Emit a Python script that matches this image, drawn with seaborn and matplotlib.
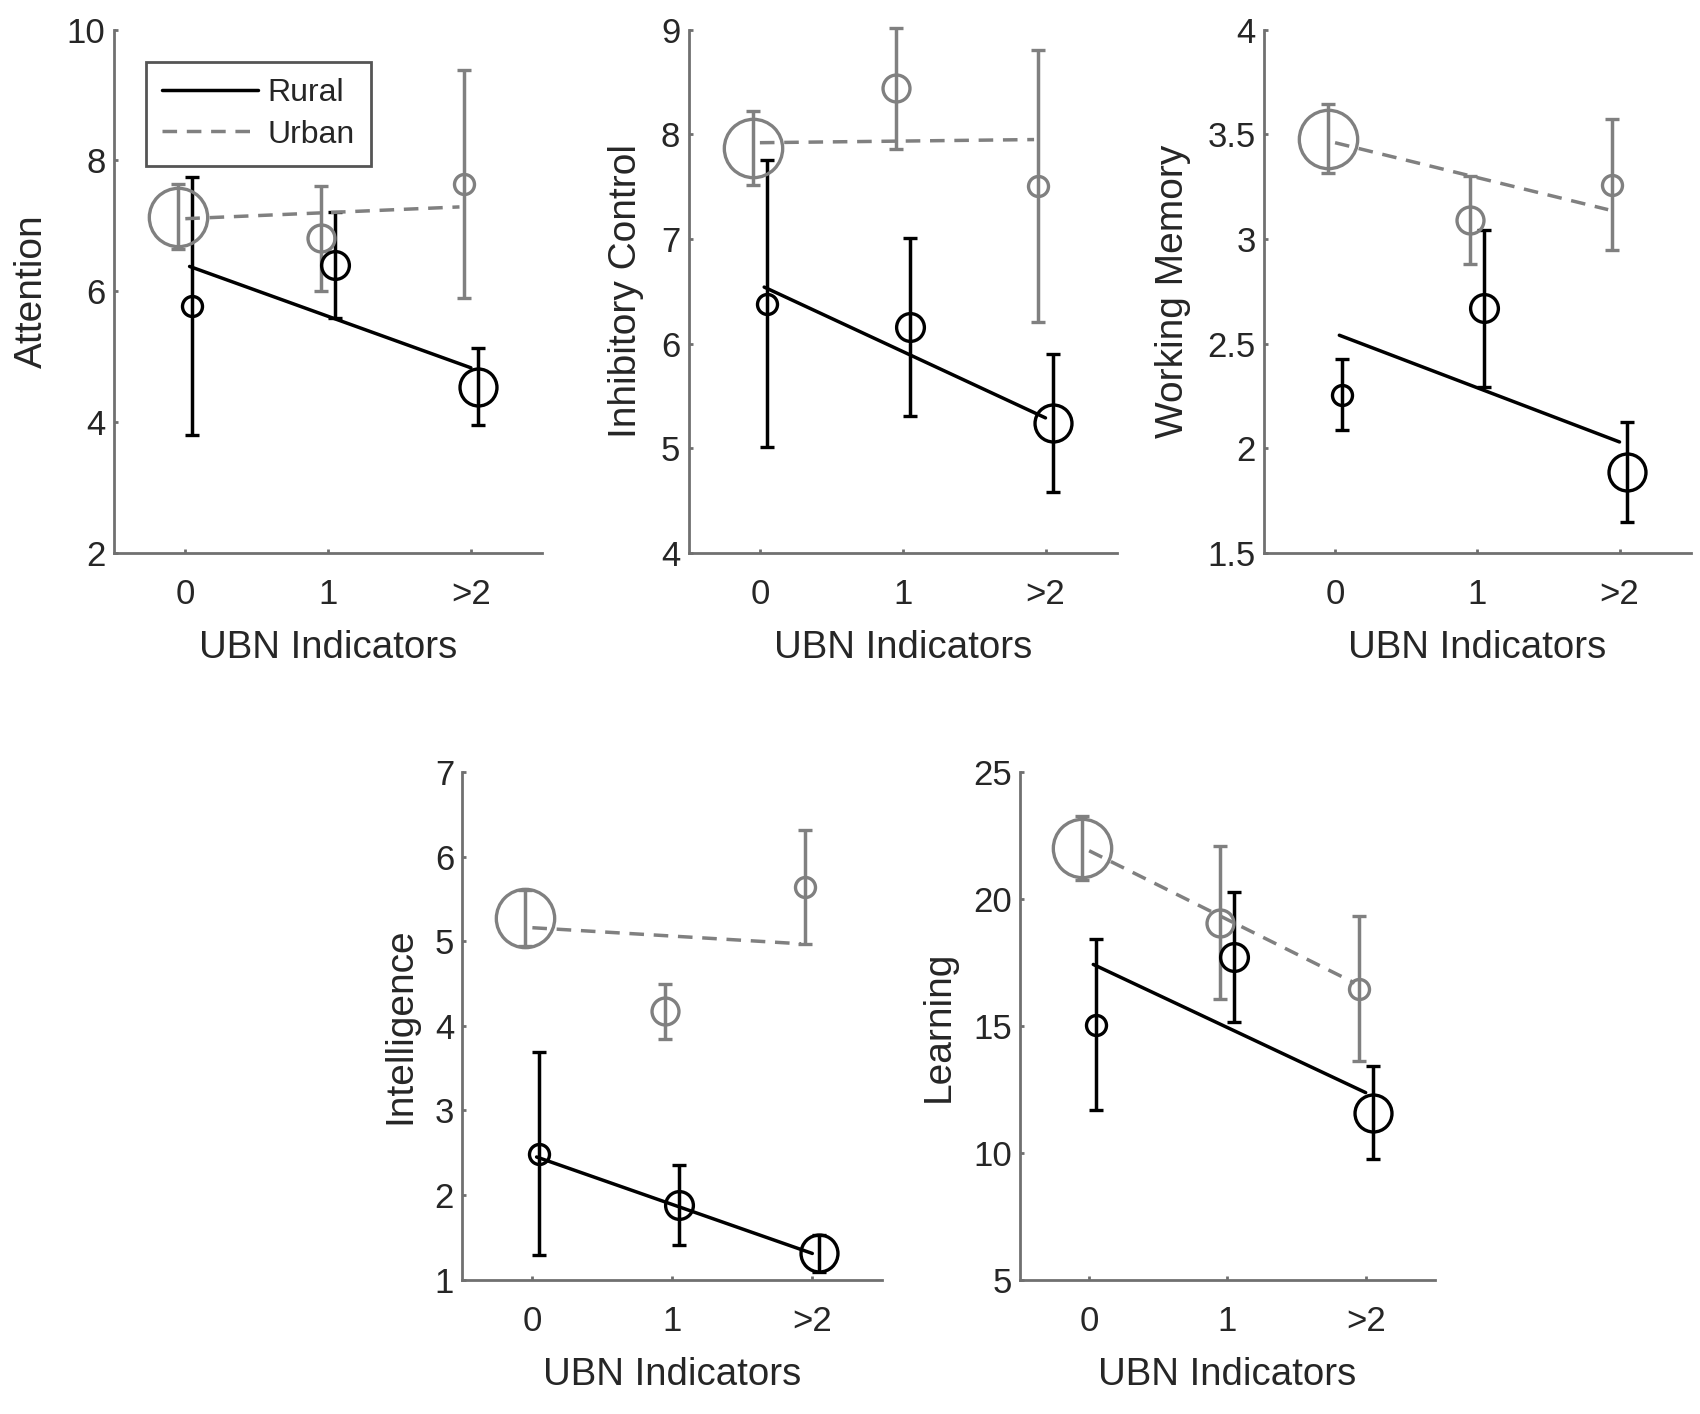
import numpy as np
import pandas as pd
import matplotlib
matplotlib.use('Agg')
import matplotlib.pyplot as plt
from matplotlib.lines import Line2D
from matplotlib.ticker import FuncFormatter
import seaborn as sns

# x categories
ubn_labels = ['0', '1', '>2']
groups = ['Rural', 'Urban']

# group means, half error bars and fit line end values
attention_rural = [5.78, 6.40, 4.54]
attention_rural_err = [1.97, 0.81, 0.59]
attention_urban = [7.14, 6.81, 7.64]
attention_urban_err = [0.50, 0.80, 1.75]
attention_fit_rural = [6.38, 4.83]
attention_fit_urban = [7.11, 7.29]

inhib_rural = [6.38, 6.16, 5.24]
inhib_rural_err = [1.37, 0.85, 0.66]
inhib_urban = [7.87, 8.44, 7.51]
inhib_urban_err = [0.35, 0.58, 1.30]
inhib_fit_rural = [6.54, 5.29]
inhib_fit_urban = [7.92, 7.95]

wm_rural = [2.256, 2.67, 1.886]
wm_rural_err = [0.17, 0.375, 0.24]
wm_urban = [3.48, 3.09, 3.26]
wm_urban_err = [0.165, 0.21, 0.315]
wm_fit_rural = [2.54, 2.03]
wm_fit_urban = [3.46, 3.14]

intel_rural = [2.49, 1.88, 1.31]
intel_rural_err = [1.20, 0.47, 0.22]
intel_urban = [5.27, 4.17, 5.64]
intel_urban_err = [0.33, 0.33, 0.67]
intel_fit_rural = [2.45, 1.31]
intel_fit_urban = [5.16, 4.97]

learn_rural = [15.05, 17.71, 11.58]
learn_rural_err = [3.37, 2.55, 1.84]
learn_urban = [22.0, 19.07, 16.47]
learn_urban_err = [1.26, 3.0, 2.86]
learn_fit_rural = [17.42, 12.37]
learn_fit_urban = [21.9, 16.69]

panels = [
    ('Attention', attention_rural, attention_rural_err, attention_urban, attention_urban_err,
     attention_fit_rural, attention_fit_urban, (2, 10), [2, 4, 6, 8, 10]),
    ('Inhibitory Control', inhib_rural, inhib_rural_err, inhib_urban, inhib_urban_err,
     inhib_fit_rural, inhib_fit_urban, (4, 9), [4, 5, 6, 7, 8, 9]),
    ('Working Memory', wm_rural, wm_rural_err, wm_urban, wm_urban_err,
     wm_fit_rural, wm_fit_urban, (1.5, 4), [1.5, 2, 2.5, 3, 3.5, 4]),
    ('Intelligence', intel_rural, intel_rural_err, intel_urban, intel_urban_err,
     intel_fit_rural, intel_fit_urban, (1, 7), [1, 2, 3, 4, 5, 6, 7]),
    ('Learning', learn_rural, learn_rural_err, learn_urban, learn_urban_err,
     learn_fit_rural, learn_fit_urban, (5, 25), [5, 10, 15, 20, 25]),
]

# style
colors = {'Rural': 'black', 'Urban': '#808080'}
offsets = {'Rural': 0.05, 'Urban': -0.05}
marker_ms = {'Rural': [7.2, 10, 13.3], 'Urban': [21, 9.7, 7.2]}
fit_x = {'Rural': [0.03, 2.0], 'Urban': [0.0, 1.92]}
spine_col = '#707070'
text_col = '#262626'

axes_pos = [
    [0.067, 0.609, 0.252, 0.370],
    [0.405, 0.609, 0.252, 0.370],
    [0.7435, 0.609, 0.251, 0.370],
    [0.272, 0.095, 0.247, 0.359],
    [0.600, 0.095, 0.244, 0.359],
]

sns.set_theme(style='ticks')
plt.rcParams['font.family'] = ['Liberation Sans', 'DejaVu Sans']

fig = plt.figure(figsize=(8.5, 7.07), dpi=200)

for pos, (name, r, r_err, u, u_err, f_r, f_u, ylim, yticks) in zip(axes_pos, panels):
    ax = fig.add_axes(pos)
    # error bars with open circles, urban first so rural sits on top
    for g, means, errs in [('Urban', u, u_err), ('Rural', r, r_err)]:
        for i in range(3):
            eb = ax.errorbar(i + offsets[g], means[i], yerr=errs[i], fmt='o', mfc='none',
                             mec=colors[g], ms=marker_ms[g][i], mew=1.2, ecolor=colors[g],
                             elinewidth=1.25, capsize=2.4, capthick=1.25, zorder=3)
            for art in eb.lines[1] + eb.lines[2]:
                art.set_clip_on(False)
    # fit lines
    fit_df = pd.DataFrame({
        'x': fit_x['Rural'] + fit_x['Urban'],
        'y': list(f_r) + list(f_u),
        'group': ['Rural', 'Rural', 'Urban', 'Urban'],
    })
    sns.lineplot(data=fit_df, x='x', y='y', hue='group', style='group',
                 palette=colors, dashes={'Rural': '', 'Urban': (4.2, 2.8)},
                 linewidth=1.25, legend=False, ax=ax, zorder=4)

    ax.set_xlim(-0.5, 2.5)
    ax.set_ylim(*ylim)
    ax.set_xticks([0, 1, 2])
    ax.set_xticklabels(ubn_labels)
    ax.set_yticks(yticks)
    ax.yaxis.set_major_formatter(FuncFormatter(lambda v, p: '%g' % v))
    ax.set_xlabel('UBN Indicators', fontsize=13.8, color=text_col, labelpad=7)
    ax.set_ylabel(name, fontsize=14, color=text_col, labelpad=6)
    sns.despine(ax=ax)
    for s in ['left', 'bottom']:
        ax.spines[s].set_color(spine_col)
        ax.spines[s].set_linewidth(1.0)
    ax.tick_params(direction='in', length=1.5, width=1.0, color=spine_col,
                   labelsize=12.5, labelcolor=text_col)
    ax.tick_params(axis='x', pad=9)
    ax.tick_params(axis='y', pad=3)

    if name == 'Attention':
        handles = [Line2D([0], [0], color=colors['Rural'], lw=1.25),
                   Line2D([0], [0], color=colors['Urban'], lw=1.25, dashes=(4.2, 2.8))]
        leg = ax.legend(handles, groups, loc='upper left', bbox_to_anchor=(0.075, 0.9375),
                        borderaxespad=0, fancybox=False, framealpha=1, edgecolor='#555555',
                        fontsize=11.5, handlelength=3.0, handletextpad=0.3, labelspacing=0.35,
                        borderpad=0.5)
        leg.get_frame().set_linewidth(1.0)
        for t in leg.get_texts():
            t.set_color(text_col)

fig.savefig('out.png', dpi=200, facecolor='white')
